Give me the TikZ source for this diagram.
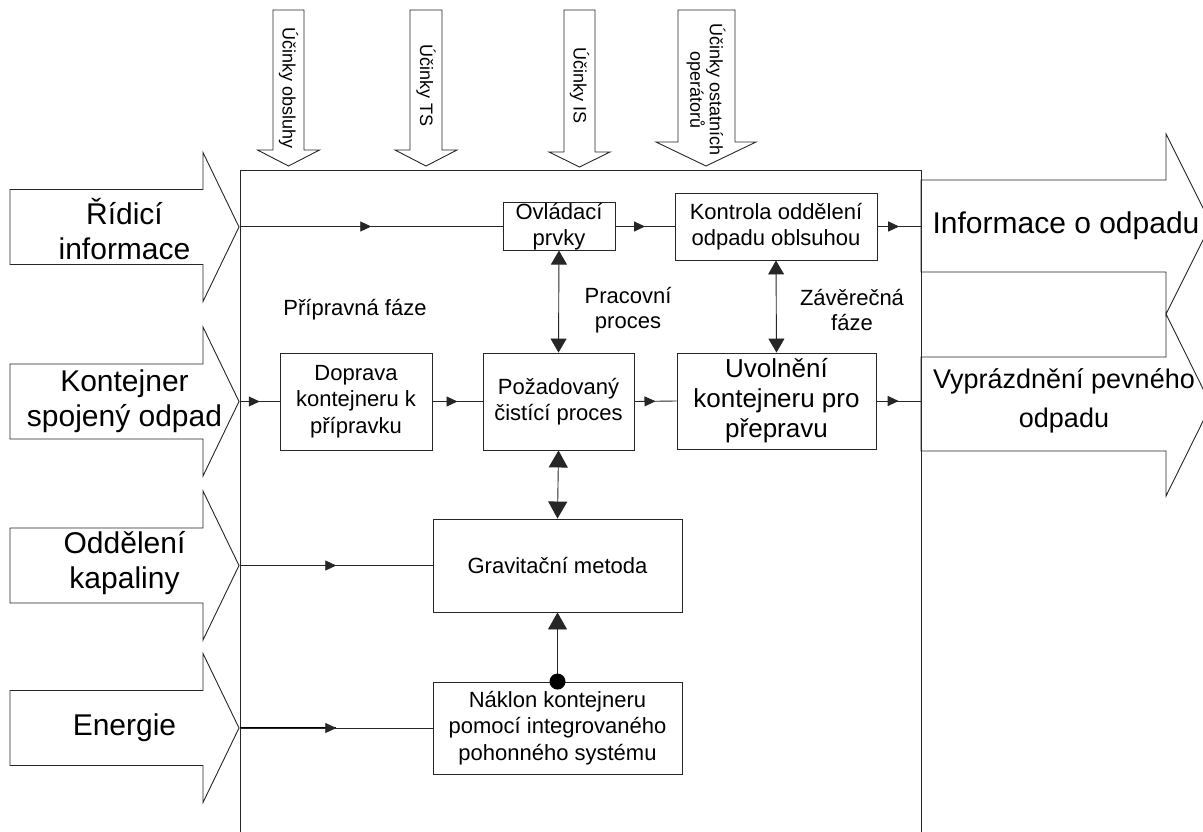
\documentclass[tikz,border=0pt]{standalone}
\usepackage{fontspec}
\setmainfont{Liberation Sans}
\usetikzlibrary{arrows.meta,decorations.markings,calc}
\begin{document}
\begin{tikzpicture}[x=1pt,y=-1pt,
  outline/.style={draw=black!85, line width=0.9pt, line join=miter},
  box/.style={draw=black!85, line width=0.9pt, align=center, inner sep=0pt, font=\fontsize{22}{26.5}\selectfont},
  bigbox/.style={box, font=\fontsize{26}{30}\selectfont},
  bigtext/.style={align=center, inner sep=0pt, font=\fontsize{30}{35}\selectfont},
  righttext/.style={align=center, inner sep=0pt, font=\fontsize{30}{39}\selectfont},
  righttextb/.style={align=center, inner sep=0pt, font=\fontsize{27}{39}\selectfont},
  toptext/.style={align=center, inner sep=0pt, rotate=-90, font=\fontsize{18}{19.5}\selectfont},
  lbl/.style={align=center, inner sep=0pt, font=\fontsize{22}{25}\selectfont},
  conn/.style={draw=black!85, line width=0.9pt},
  boldseg/.style={draw=black, line width=1.8pt},
  midarrow/.style={postaction={decorate}, decoration={markings, mark=at position 0.5 with {\arrow{Triangle[length=11pt,width=10pt]}}}},
  twoway/.style={conn, {Triangle[length=14pt,width=16pt]}-{Triangle[length=14pt,width=16pt]}},
  twowaybig/.style={conn, {Triangle[length=17pt,width=19pt]}-{Triangle[length=17pt,width=19pt]}},
  oneway/.style={conn, -{Triangle[length=17pt,width=19pt]}}
]
\useasboundingbox (0,0) rectangle (1203,832);

% system boundary
\draw[outline] (240,832) -- (240,170) -- (921,170) -- (921,832);

% top input arrows
\draw[outline] (273,10) -- (304,10) -- (304,150) -- (319.5,150) -- (288.5,166) -- (257.5,150) -- (273,150) -- cycle;
\draw[outline] (410,10) -- (442,10) -- (442,150) -- (457,150) -- (426,166) -- (395,150) -- (410,150) -- cycle;
\draw[outline] (564,10) -- (595,10) -- (595,152) -- (610,152) -- (579.5,167) -- (549,152) -- (564,152) -- cycle;
\draw[outline] (678,10) -- (735,10) -- (735,142) -- (756,142) -- (706,166) -- (656,142) -- (678,142) -- cycle;
\node[toptext] (t1) at (288.5,88) {Účinky obsluhy};
\node[toptext] (t2) at (426,86) {Účinky TS};
\node[toptext] (t3) at (579.5,86) {Účinky IS};
\node[toptext] (t4) at (706,90) {Účinky ostatních\\operátorů};

% left input arrows
\foreach \t in {227,401.5,565.5,728} {
  \draw[outline] (10,\t-37.5) -- (203,\t-37.5) -- (203,\t-74.5) -- (239,\t) -- (203,\t+74.5) -- (203,\t+37.5) -- (10,\t+37.5) -- cycle;
}
\node[bigtext] (l1) at (124.5,229) {Řídicí\\informace};
\node[bigtext] (l2) at (124.5,401) {Kontejner\\spojený odpad};
\node[bigtext] (l3) at (124.5,563) {Oddělení\\kapaliny};
\node[bigtext] (l4) at (124.5,728) {Energie};

% right output arrows
\draw[outline] (921,180) -- (1166,180) -- (1166,134) -- (1211,224) -- (1166,314) -- (1166,272) -- (921,272) -- cycle;
\draw[outline] (921,357) -- (1166,357) -- (1166,314) -- (1211,405) -- (1166,496) -- (1166,451) -- (921,451) -- cycle;
\node[righttext] (r1) at (1066,226) {Informace o odpadu};
\node[righttextb] (r2) at (1064,401) {Vyprázdnění pevného\\odpadu};

% coordinates on the boundary
\coordinate (in1) at (240,226.5);
\coordinate (in2) at (240,401.5);
\coordinate (in3) at (240,565.5);
\coordinate (in4) at (240,728);
\coordinate (out1) at (921,226.5);
\coordinate (out2) at (921,401);

% process boxes
\node[box, minimum width=112, minimum height=47] (ovl) at (559,226.5) {Ovládací\\prvky};
\node[box, minimum width=202, minimum height=67] (kon) at (776,226.5) {Kontrola oddělení\\odpadu oblsuhou};
\node[box, minimum width=152, minimum height=97] (dop) at (356,401.5) {Doprava\\kontejneru k\\přípravku};
\node[box, minimum width=151, minimum height=97] (poz) at (558.5,401.5) {Požadovaný\\čistící proces};
\node[bigbox, minimum width=199, minimum height=96] (uvo) at (776.5,401) {Uvolnění\\kontejneru pro\\přepravu};
\node[box, minimum width=249, minimum height=93] (gra) at (557.5,565.5) {Gravitační metoda};
\node[box, minimum width=249, minimum height=92] (nak) at (557.5,728) {Náklon kontejneru\\pomocí integrovaného\\pohonného systému};

% phase labels
\node[lbl] (ph1) at (355,310) {Přípravná fáze};
\node[lbl] (ph2) at (628,310) {Pracovní\\proces};
\node[lbl] (ph3) at (852,310) {Závěrečná\\fáze};

% horizontal connectors
\draw[boldseg] (in1) -- ($(in1)!0.5!(ovl.west)$);
\draw[conn, midarrow] (in1) -- (ovl.west);
\draw[conn, midarrow] (ovl.east) -- (kon.west);
\draw[conn, midarrow] (kon.east) -- (out1);
\draw[boldseg] (in2) -- ($(in2)!0.5!(dop.west)$);
\draw[conn, midarrow] (in2) -- (dop.west);
\draw[conn, midarrow] (dop.east) -- (poz.west);
\draw[conn, midarrow] (poz.east) -- (uvo.west);
\draw[conn, midarrow] (uvo.east) -- (out2);
\draw[boldseg] (in3) -- ($(in3)!0.5!(gra.west)$);
\draw[conn, midarrow] (in3) -- (gra.west);
\draw[boldseg] (in4) -- ($(in4)!0.5!(nak.west)$);
\draw[conn, midarrow] (in4) -- (nak.west);

% vertical connectors
\draw[twoway] (ovl.south) -- (poz.north);
\draw[twoway] (kon.south) -- (uvo.north);
\draw[twowaybig] (poz.south) -- (gra.north);
\draw[oneway] (nak.north) -- (gra.south);
\fill[black] (nak.north) circle (8);
\end{tikzpicture}
\end{document}
